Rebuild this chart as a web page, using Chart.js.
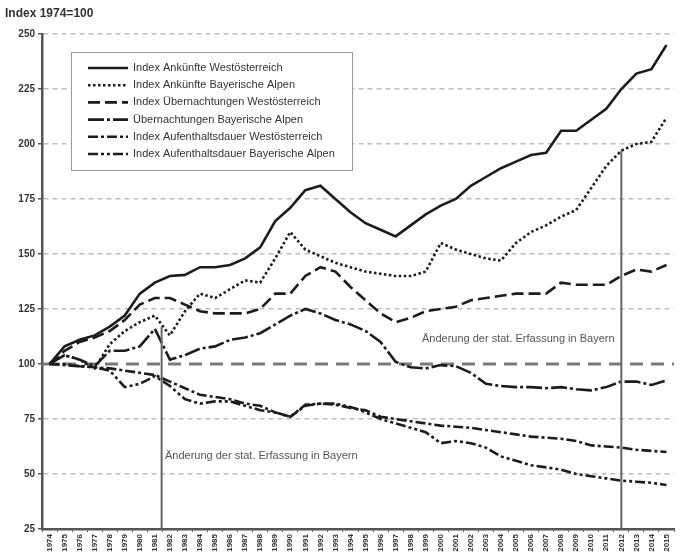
<!DOCTYPE html>
<html>
<head>
<meta charset="utf-8">
<script src="https://cdn.jsdelivr.net/npm/chart.js@4.4.0/dist/chart.umd.min.js"></script>
<style>
  html, body { margin: 0; padding: 0; background: #fff; }
</style>
</head>
<body>
<canvas id="chart" width="687" height="553"></canvas>
<script>
// Jahre (Kategorien der x-Achse)
var years = ["1974", "1975", "1976", "1977", "1978", "1979", "1980", "1981", "1982", "1983",
    "1984", "1985", "1986", "1987", "1988", "1989", "1990", "1991", "1992", "1993",
    "1994", "1995", "1996", "1997", "1998", "1999", "2000", "2001", "2002", "2003",
    "2004", "2005", "2006", "2007", "2008", "2009", "2010", "2011", "2012", "2013",
    "2014", "2015"];

// Index 1974 = 100
var ankWest = [100, 108, 111, 113, 117, 122, 132, 137, 140, 140.5,
    144, 144, 145, 148, 153, 165, 171, 179, 181, 175,
    169, 164, 161, 158, 163, 168, 172, 175, 181, 185,
    189, 192, 195, 196, 206, 206, 211, 216, 225, 232,
    234, 245];
var ankBayern = [100, 104, 102, 98, 109, 115, 119, 122, 113, 124,
    132, 130, 134, 138, 137, 148, 160, 152, 149, 146,
    144, 142, 141, 140, 140, 142, 155, 152, 150, 148,
    147, 155, 160, 163, 167, 170, 180, 190, 197, 200,
    201, 212];
var uebWest = [100, 106, 110, 112, 115, 120, 127, 130, 130, 127,
    124, 123, 123, 123, 125, 132, 132, 140, 144, 142,
    135, 129, 123, 119, 121, 124, 125, 126, 129, 130,
    131, 132, 132, 132, 137, 136, 136, 136, 140, 143,
    142, 145];
var uebBayern = [100, 104, 102, 99, 106, 106, 108, 116, 102, 104,
    107, 108, 111, 112, 114, 118, 122, 125, 123, 120,
    118, 115, 110, 101, 98.5, 98, 99.5, 99, 96, 91,
    90, 89.5, 89.5, 89, 89.5, 88.5, 88, 89.5, 92, 92,
    90.5, 92.5];
var dauerWest = [100, 99.5, 99, 98.5, 98, 97, 96, 95, 92, 89,
    86, 85, 84, 82, 81, 78, 76, 81, 82, 81.5,
    80, 79, 76, 75, 74, 73, 72, 71.5, 71, 70,
    69, 68, 67, 66.5, 66, 65, 63, 62.5, 62, 61,
    60.5, 60];
var dauerBayern = [100, 100, 99, 98.5, 97, 89.5, 91, 94.5, 90, 84,
    82, 83, 83, 81, 79, 78, 76, 81.5, 82, 82,
    80.5, 78, 75, 73, 71, 69, 64, 65, 64, 62,
    58, 56, 54, 53, 52, 50, 49, 48, 47, 46.5,
    46, 45];

var seriesNames = ["Index Ankünfte Westösterreich", "Index Ankünfte Bayerische Alpen",
    "Index Übernachtungen Westösterreich", "Übernachtungen Bayerische Alpen",
    "Index Aufenthaltsdauer Westösterreich", "Index Aufenthaltsdauer Bayerische Alpen"];

// Änderung der stat. Erfassung in Bayern (x als Kategorie-Index)
var breakX = [7.45, 38];
var breakTop = [117, 197];
var noteText = "Änderung der stat. Erfassung in Bayern";
var noteX = [7.67, 24.75];
var noteY = [58.3, 111.2];

var FONT = "'Liberation Sans', Arial, sans-serif";
var INK = "#1c1c1c";

function line(label, data, dash) {
    return {
        label: label,
        data: data,
        borderColor: INK,
        borderWidth: 2.6,
        borderDash: dash,
        borderCapStyle: "butt",
        pointRadius: 0,
        tension: 0,
        fill: false
    };
}

var extras = {
    id: "extras",
    beforeDatasetsDraw(chart) {
        var ctx = chart.ctx, area = chart.chartArea;
        var y100 = chart.scales.y.getPixelForValue(100);
        ctx.save();
        ctx.strokeStyle = "#7a7a7a";
        ctx.lineWidth = 3;
        ctx.setLineDash([13, 8]);
        ctx.beginPath();
        ctx.moveTo(area.left, y100);
        ctx.lineTo(area.right, y100);
        ctx.stroke();
        ctx.restore();
    },
    afterDatasetsDraw(chart) {
        var ctx = chart.ctx, xs = chart.scales.x, ys = chart.scales.y;
        ctx.save();
        // senkrechte Linien
        ctx.strokeStyle = "#666";
        ctx.lineWidth = 2;
        for (var i = 0; i < breakX.length; i++) {
            var px = xs.getPixelForValue(breakX[i]);
            ctx.beginPath();
            ctx.moveTo(px, ys.getPixelForValue(breakTop[i]));
            ctx.lineTo(px, ys.getPixelForValue(25));
            ctx.stroke();
        }
        // Hinweistexte
        ctx.fillStyle = "#555";
        ctx.font = "11px " + FONT;
        ctx.textBaseline = "middle";
        ctx.textAlign = "left";
        for (var j = 0; j < noteX.length; j++) {
            ctx.fillText(noteText, xs.getPixelForValue(noteX[j]), ys.getPixelForValue(noteY[j]));
        }
        // Legende im Diagramm
        ctx.fillStyle = "#fff";
        ctx.fillRect(71, 52, 281, 118);
        ctx.strokeStyle = "#999";
        ctx.lineWidth = 1;
        ctx.strokeRect(71.5, 52.5, 281, 118);
        ctx.font = "11px " + FONT;
        chart.data.datasets.forEach(function (ds, k) {
            var ly = 68 + k * 17.2;
            ctx.strokeStyle = INK;
            ctx.lineWidth = 2.6;
            ctx.setLineDash(ds.borderDash);
            ctx.beginPath();
            ctx.moveTo(88, ly);
            ctx.lineTo(128, ly);
            ctx.stroke();
            ctx.setLineDash([]);
            ctx.fillStyle = "#333";
            ctx.fillText(ds.label, 133, ly);
        });
        // Achsentitel
        ctx.fillStyle = "#333";
        ctx.font = "bold 12px " + FONT;
        ctx.fillText("Index 1974=100", 5, 14);
        ctx.restore();
    }
};

new Chart(document.getElementById("chart").getContext("2d"), {
    type: "line",
    data: {
        labels: years,
        datasets: [
            line(seriesNames[0], ankWest, []),
            line(seriesNames[1], ankBayern, [2.5, 2.5]),
            line(seriesNames[2], uebWest, [12, 5]),
            line(seriesNames[3], uebBayern, [16, 3, 3, 3]),
            line(seriesNames[4], dauerWest, [10, 3, 3, 3]),
            line(seriesNames[5], dauerBayern, [10, 3, 3, 3, 3, 3])
        ]
    },
    options: {
        responsive: false,
        animation: false,
        layout: { padding: { left: 0, top: 34, right: 13, bottom: 0 } },
        plugins: {
            legend: { display: false },
            tooltip: { enabled: false }
        },
        scales: {
            x: {
                type: "category",
                offset: true,
                grid: {
                    display: true,
                    offset: true,
                    drawOnChartArea: false,
                    drawTicks: true,
                    tickLength: 3,
                    tickColor: "#555"
                },
                border: { display: true, color: "#555", width: 2.5 },
                ticks: {
                    autoSkip: false,
                    maxRotation: 90,
                    minRotation: 90,
                    padding: 2,
                    color: "#333",
                    font: { size: 8, family: FONT, weight: "bold" }
                },
                afterFit: function (scale) { scale.height = 24; }
            },
            y: {
                min: 25,
                max: 250,
                ticks: {
                    stepSize: 25,
                    padding: 3,
                    color: "#333",
                    font: { size: 10, family: FONT, weight: "bold" }
                },
                grid: {
                    color: function (c) {
                        var v = c.tick ? c.tick.value : null;
                        return (v === 25 || v === 100) ? "rgba(0,0,0,0)" : "#bdbdbd";
                    },
                    lineWidth: 1.5,
                    drawTicks: true,
                    tickLength: 4,
                    tickColor: "#555"
                },
                border: { display: true, color: "#555", width: 2.5, dash: [5, 4] },
                afterFit: function (scale) { scale.width = 42; }
            }
        }
    },
    plugins: [extras]
});
</script>
</body>
</html>
